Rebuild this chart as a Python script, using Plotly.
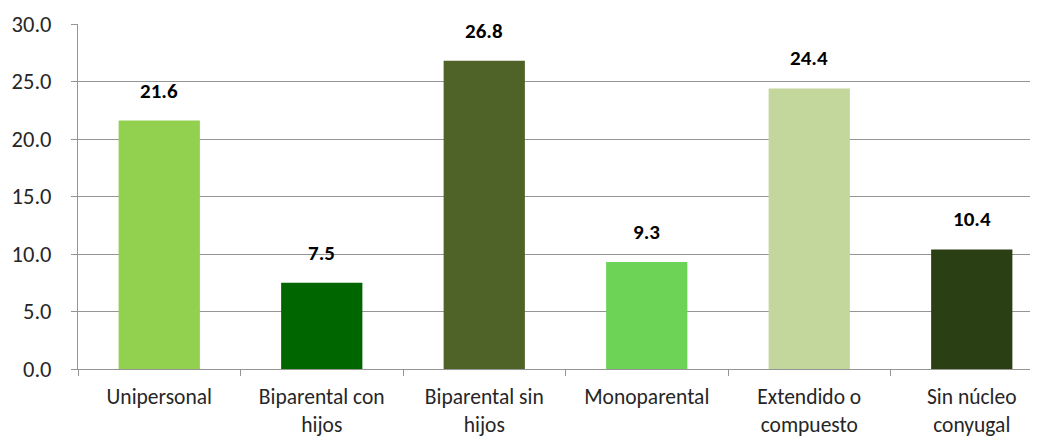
import plotly.graph_objects as go

categories = ["Unipersonal", "Biparental con<br>hijos", "Biparental sin<br>hijos",
              "Monoparental", "Extendido o<br>compuesto", "Sin núcleo<br>conyugal"]
values = [21.6, 7.5, 26.8, 9.3, 24.4, 10.4]
colors = ["#92D050", "#006600", "#4F6228", "#6DD357", "#C3D69B", "#2B3F14"]
y_ticks = [0, 5, 10, 15, 20, 25, 30]

fig = go.Figure()
fig.add_trace(go.Bar(x=categories, y=values, marker=dict(color=colors, line=dict(width=0)),
                     width=0.5))

for c, v in zip(categories, values):
    fig.add_annotation(x=c, y=v, text=f"<b>{v:.1f}</b>", showarrow=False,
                       yanchor="bottom", yshift=15,
                       font=dict(family="Carlito, Lato", size=21, color="#000000"))

fig.update_layout(
    width=1045, height=438,
    margin=dict(l=70, r=0, t=16, b=77),
    plot_bgcolor="white", paper_bgcolor="white",
    showlegend=False,
    font=dict(family="Carlito, Lato", size=22.5, color="#262626"),
)
fig.update_xaxes(
    type="category", showline=True, linecolor="#959595", linewidth=1,
    ticks="outside", tickson="boundaries", ticklen=6, tickcolor="#959595",
    showgrid=False, ticklabelstandoff=8, automargin=False,
    tickfont=dict(size=21.5),
)
fig.update_yaxes(
    range=[0, 30], tickvals=y_ticks, ticktext=[f"{t:.1f}" for t in y_ticks],
    showline=True, linecolor="#959595", linewidth=1,
    ticks="outside", ticklen=6, tickcolor="#959595",
    showgrid=True, gridcolor="#959595", gridwidth=1, zeroline=False,
    ticklabelstandoff=15, automargin=False,
)
fig.write_html("out.html")
